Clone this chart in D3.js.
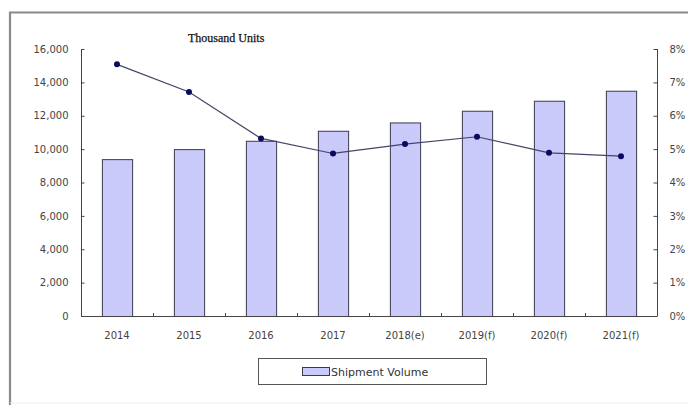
<!DOCTYPE html>
<html><head><meta charset="utf-8">
<script src="https://cdn.jsdelivr.net/npm/d3@7"></script>
<style>body{margin:0;background:#fff;}svg{display:block;}</style>
</head><body>
<script>
const categories = ["2014","2015","2016","2017","2018(e)","2019(f)","2020(f)","2021(f)"];
const shipments = [9400,10000,10500,11100,11600,12300,12900,13500];
const growth = [7.54,6.71,5.32,4.87,5.15,5.37,4.89,4.79];
const leftTicks = [0,2000,4000,6000,8000,10000,12000,14000,16000];
const rightTicks = [0,1,2,3,4,5,6,7,8];
const seriesName = "Shipment Volume";
const unitLabel = "Thousand Units";

const W = 688, H = 405;
const L = 81, R = 657, T = 49, B = 316;
const svg = d3.select("body").append("svg").attr("width", W).attr("height", H);

// frame
svg.append("path").attr("d", `M10,405 L10,12.5 L688,12.5`).attr("fill","none").attr("stroke","#8a8a8a").attr("stroke-width",2.2);
svg.append("line").attr("x1",10).attr("x2",688).attr("y1",403).attr("y2",403).attr("stroke","#ececec").attr("stroke-width",1);

const x = d3.scaleBand().domain(categories).range([L,R]).paddingInner(0.58).paddingOuter(0.29);
const xPt = d3.scaleBand().domain(categories).range([L,R]);
const y = d3.scaleLinear().domain([0,16000]).range([B,T]);
const y2 = d3.scaleLinear().domain([0,8]).range([B,T]);

const axisColor = "#444";
const tickFont = "DejaVu Sans, sans-serif";

// bars
svg.append("g").selectAll("rect").data(shipments).join("rect")
  .attr("x",(d,i)=>x(categories[i])+0.5)
  .attr("y",d=>y(d)+0.5)
  .attr("width",x.bandwidth())
  .attr("height",d=>B-y(d))
  .attr("fill","#c9c9fa").attr("stroke","#3a3a4a").attr("stroke-width",1);

// left axis
const gl = svg.append("g").attr("transform",`translate(${L+0.5},0)`)
  .call(d3.axisLeft(y).tickValues(leftTicks).tickSize(-3).tickPadding(13).tickFormat(d3.format(",")));
// right axis
const gr = svg.append("g").attr("transform",`translate(${R+0.5},0)`)
  .call(d3.axisRight(y2).tickValues(rightTicks).tickSize(-4).tickPadding(12).tickFormat(d=>d+"%"));
// bottom axis
const boundaries = categories.slice(1).map(c=>xPt(c));
const gb = svg.append("g").attr("transform",`translate(0,${B+0.5})`)
  .call(d3.axisBottom(xPt).tickSize(0).tickPadding(15));
svg.append("g").selectAll("line").data(boundaries).join("line")
  .attr("x1",d=>Math.round(d)+0.5).attr("x2",d=>Math.round(d)+0.5)
  .attr("y1",B).attr("y2",B-3).attr("stroke",axisColor);

[gl,gr,gb].forEach(g=>{
  g.select(".domain").attr("stroke",axisColor);
  g.selectAll(".tick line").attr("stroke",axisColor);
  g.selectAll("text").attr("font-family",tickFont).attr("font-size","10px").attr("fill","#444");
});
gr.select(".domain").attr("d",`M-0,${T}H0V${B}H-0`);
gl.select(".domain").attr("d",`M0,${T}H0V${B}H0`);
gb.select(".domain").attr("d",`M${L},0H${R}`);

// line
const line = d3.line().x((d,i)=>xPt(categories[i])+xPt.bandwidth()/2).y(d=>y2(d));
svg.append("path").datum(growth).attr("d",line).attr("fill","none").attr("stroke","#44446a").attr("stroke-width",1.2);
svg.append("g").selectAll("circle").data(growth).join("circle")
  .attr("cx",(d,i)=>xPt(categories[i])+xPt.bandwidth()/2).attr("cy",d=>y2(d)).attr("r",3)
  .attr("fill","#0a0a60");

// title
svg.append("text").attr("x",188).attr("y",42).attr("font-family","Liberation Serif, serif").attr("font-size","12px").attr("fill","#111").attr("stroke","#111").attr("stroke-width",0.25).text(unitLabel);

// legend
const lg = svg.append("g");
lg.append("rect").attr("x",258.5).attr("y",358.5).attr("width",228).attr("height",26).attr("fill","#fff").attr("stroke","#555");
lg.append("rect").attr("x",302.5).attr("y",367.5).attr("width",27).attr("height",8).attr("fill","#c9c9fa").attr("stroke","#3a3a4a");
lg.append("text").attr("x",331).attr("y",376).attr("font-family",tickFont).attr("font-size","11px").attr("fill","#333").text(seriesName);
</script>
</body></html>
